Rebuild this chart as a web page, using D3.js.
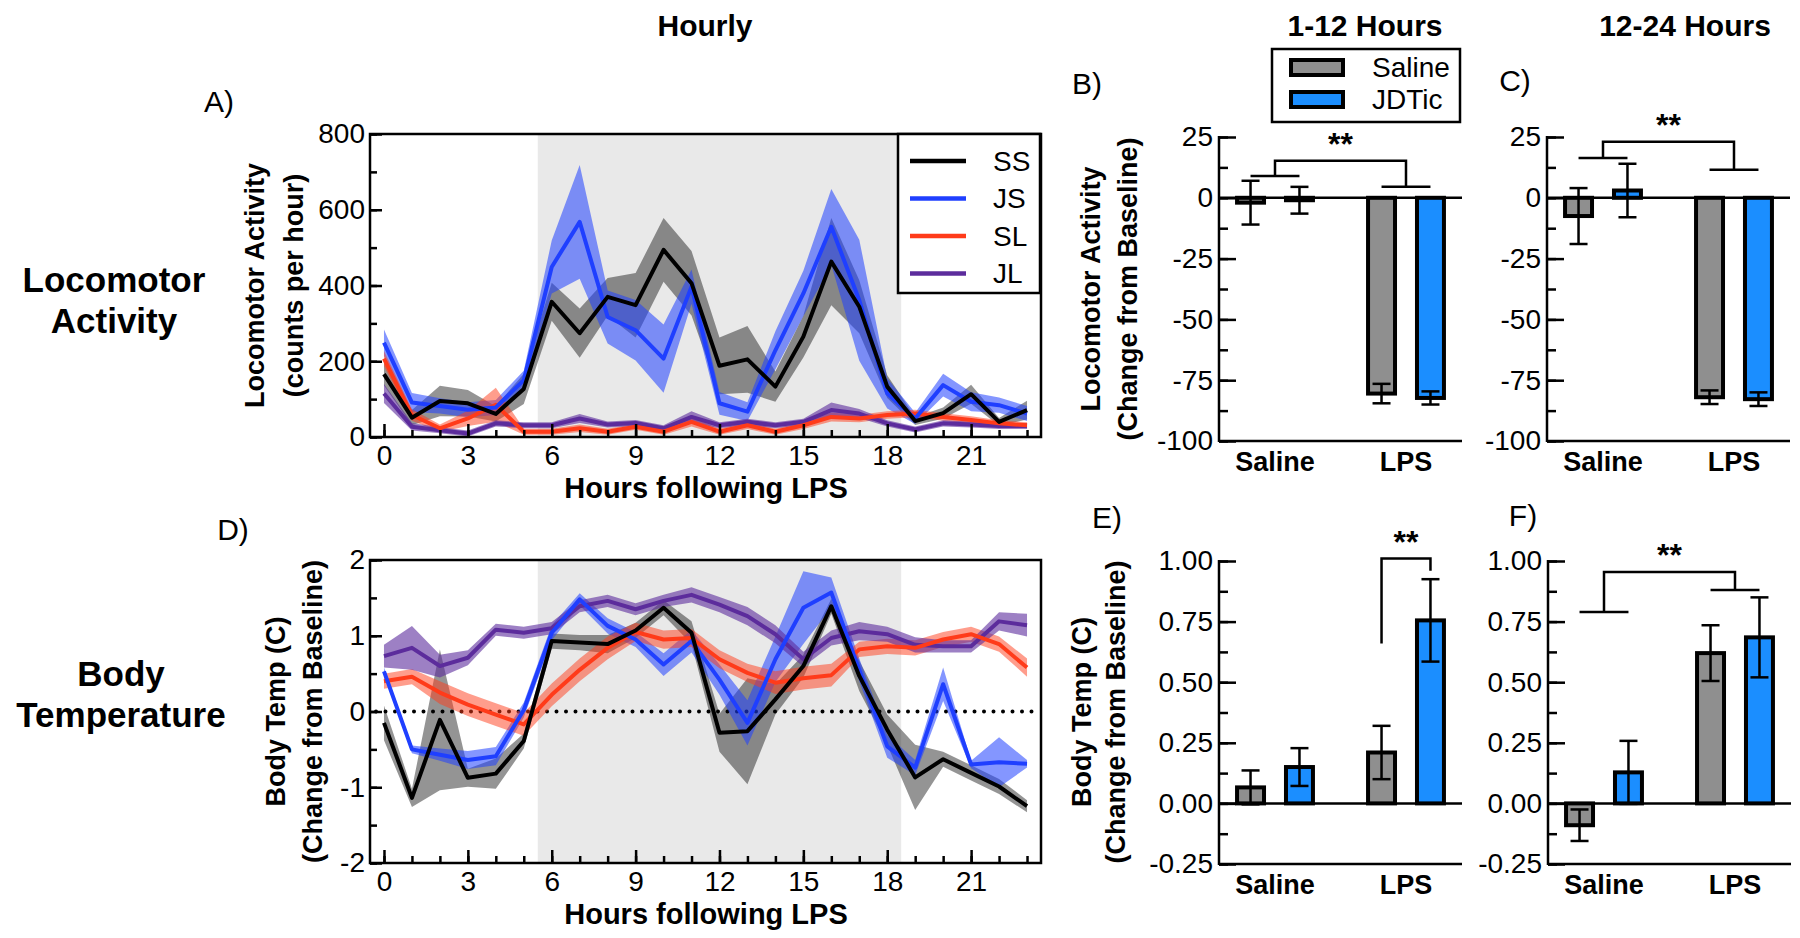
<!doctype html>
<html>
<head>
<meta charset="utf-8">
<script src="https://d3js.org/d3.v7.min.js"></script>
<style>
  body{margin:0;background:#fff;}
  svg{font-family:"Liberation Sans",Arial,sans-serif;}
  .axis path.domain{stroke:#000;stroke-width:2.5;}
  .axis line{stroke:#000;stroke-width:2.5;}
  .axis text{font-size:28px;fill:#000;font-family:"Liberation Sans",Arial,sans-serif;}
</style>
</head>
<body>
<svg width="1800" height="938"></svg>
<script>
// ---- hourly data (A: locomotor counts, D: body temp change) ----
var hours = d3.range(24);
var seriesNames = ['SS','JS','SL','JL'];
var seriesColors = ['#000000','#1f3fff','#ff3b1a','#5c2c9c'];
var bandOpacity = [0.42,0.55,0.5,0.6];

var locoSS  = [166,51,95,89,61,127,357,274,370,348,494,406,188,205,133,265,463,344,133,42,63,113,40,71];
var locoSSe = [30,20,40,35,20,40,50,65,50,85,84,85,75,88,40,55,115,70,30,10,15,25,10,25];
var locoJS  = [249,91,82,72,78,150,449,568,317,282,207,397,89,67,229,379,555,361,115,49,137,93,84,62];
var locoJSe = [35,25,20,20,20,25,70,150,70,80,90,45,30,25,50,60,100,160,40,15,30,25,20,20];
var locoSL  = [207,58,23,49,85,14,14,23,14,27,14,40,14,31,14,31,53,49,58,62,53,45,36,31];
var locoSLe = [20,15,10,20,45,8,8,10,8,8,8,12,8,10,8,10,12,10,10,10,10,10,8,8];
var locoJL  = [115,27,18,9,36,31,31,49,33,37,23,53,31,40,31,40,71,62,36,20,36,33,29,29];
var locoJLe = [25,10,8,8,8,8,8,12,8,8,8,15,8,8,8,8,20,12,8,8,8,8,8,8];

var tempSS  = [-0.15,-1.14,-0.11,-0.875,-0.82,-0.39,0.93,0.91,0.89,1.07,1.37,1.04,-0.28,-0.26,0.16,0.6,1.39,0.47,-0.24,-0.87,-0.63,-0.81,-0.99,-1.25];
var tempSSe = [0.23,0.12,0.93,0.12,0.2,0.1,0.1,0.1,0.12,0.1,0.1,0.15,0.25,0.7,0.2,0.15,0.1,0.2,0.2,0.43,0.1,0.1,0.1,0.08];
var tempJS  = [0.53,-0.5,-0.57,-0.64,-0.59,0.02,1.04,1.48,1.13,0.95,0.62,0.93,0.42,-0.15,0.69,1.37,1.57,0.55,-0.46,-0.74,0.36,-0.7,-0.67,-0.69];
var tempJSe = [0.05,0.05,0.08,0.12,0.12,0.1,0.1,0.08,0.1,0.1,0.15,0.15,0.2,0.3,0.3,0.48,0.2,0.15,0.15,0.1,0.22,0.05,0.33,0.05];
var tempSL  = [0.4,0.46,0.25,0.09,-0.04,-0.17,0.22,0.55,0.84,1.05,0.95,0.97,0.69,0.51,0.38,0.44,0.48,0.82,0.86,0.84,0.95,1.02,0.89,0.58];
var tempSLe = [0.1,0.1,0.15,0.15,0.15,0.15,0.15,0.15,0.15,0.12,0.12,0.12,0.12,0.12,0.15,0.15,0.15,0.1,0.1,0.1,0.1,0.1,0.1,0.12];
var tempJL  = [0.73,0.84,0.6,0.71,1.08,1.04,1.1,1.39,1.46,1.35,1.46,1.54,1.41,1.26,1.02,0.69,0.97,1.06,1.02,0.88,0.86,0.86,1.19,1.14];
var tempJLe = [0.15,0.29,0.15,0.1,0.08,0.08,0.08,0.08,0.08,0.08,0.08,0.1,0.1,0.12,0.12,0.1,0.1,0.12,0.1,0.1,0.08,0.08,0.12,0.15];

// ---- summary bars (order: Saline/Saline, Saline/JDTic, LPS/Saline, LPS/JDTic) ----
var groups = ['Saline','LPS'];
var treatments = ['Saline','JDTic'];
var treatColors = ['#8f8f8f','#1b8eff'];
var locoEarly  = [-2,-1,-80.5,-82.3];
var locoEarlyE = [9,5.5,4,2.7];
var locoLate   = [-7.5,3,-82,-82.8];
var locoLateE  = [11.5,11,2.8,2.8];
var tempEarly  = [0.066,0.15,0.21,0.755];
var tempEarlyE = [0.07,0.078,0.11,0.17];
var tempLate   = [-0.09,0.128,0.62,0.685];
var tempLateE  = [0.065,0.13,0.115,0.165];
// brackets: [top, left leg end, right leg end]
var locoEarlyBr = [15.2,9,4.5];
var locoLateBr  = [23,16.4,11.5];
var tempLateBr  = [0.955,0.79,0.88];
var tempEarlyBr = [1.01,0.66,0.96];

var locoTicks = [0,200,400,600,800];
var tempTicks = [-2,-1,0,1,2];
var barLocoTicks = [-100,-75,-50,-25,0,25];
var barTempTicks = [-0.25,0,0.25,0.5,0.75,1];

var svg = d3.select('svg');

function txt(x,y,s,size,bold,anchor){
  return svg.append('text').attr('x',x).attr('y',y)
    .attr('text-anchor',anchor||'middle').attr('dominant-baseline','central')
    .style('font-size',size+'px').style('font-weight',bold?'bold':'normal').text(s);
}
function vtxt(x,y,s,size){
  return svg.append('text').attr('transform','translate('+x+','+y+') rotate(-90)')
    .attr('text-anchor','middle').attr('dominant-baseline','central')
    .style('font-size',size+'px').style('font-weight','bold').text(s);
}

function hourly(o){
  var x = d3.scaleLinear().domain([-0.5,23.5]).range([370,1041]);
  var y = d3.scaleLinear().domain(o.yDomain).range([o.bottom,o.top]);
  var g = svg.append('g');
  g.append('rect').attr('x',x(5.5)).attr('y',o.top)
    .attr('width',x(18.5)-x(5.5)).attr('height',o.bottom-o.top).attr('fill','#e9e9e9');
  if(o.zero){
    g.append('line').attr('x1',x(-0.5)+6).attr('x2',x(23.5)).attr('y1',y(0)).attr('y2',y(0))
      .attr('stroke','#000').attr('stroke-width',4).attr('stroke-linecap','round')
      .attr('stroke-dasharray','0 9.5');
  }
  var area = d3.area().x(function(d){return x(d[0]);})
    .y0(function(d){return y(d[1]-d[2]);}).y1(function(d){return y(d[1]+d[2]);});
  var line = d3.line().x(function(d){return x(d[0]);}).y(function(d){return y(d[1]);});
  o.series.forEach(function(s,i){
    var pts = hours.map(function(h){return [h,s[0][h],s[1][h]];});
    g.append('path').attr('d',area(pts)).attr('fill',seriesColors[i]).attr('opacity',bandOpacity[i]);
  });
  [3,2,1,0].forEach(function(i){
    var s = o.series[i];
    var pts = hours.map(function(h){return [h,s[0][h]];});
    g.append('path').attr('d',line(pts)).attr('fill','none')
      .attr('stroke',seriesColors[i]).attr('stroke-width',4).attr('stroke-linejoin','round');
  });
  g.append('rect').attr('x',x(-0.5)).attr('y',o.top).attr('width',x(23.5)-x(-0.5))
    .attr('height',o.bottom-o.top).attr('fill','none').attr('stroke','#000').attr('stroke-width',2.5);
  // x axis
  g.append('g').attr('class','axis').attr('transform','translate(0,'+o.bottom+')')
    .call(d3.axisBottom(x).tickValues(hours).tickSize(-7).tickFormat(''))
    .call(function(a){a.select('.domain').remove();});
  g.append('g').attr('class','axis').attr('transform','translate(0,'+o.bottom+')')
    .call(d3.axisBottom(x).tickValues(d3.range(0,24,3)).tickSize(-13).tickPadding(8))
    .call(function(a){a.select('.domain').remove();});
  // y axis
  var step = o.ticks[1]-o.ticks[0];
  var minor = d3.range(o.yDomain[0], o.yDomain[1]+1e-9, step/2);
  g.append('g').attr('class','axis').attr('transform','translate('+x(-0.5)+',0)')
    .call(d3.axisLeft(y).tickValues(minor).tickSize(-7).tickFormat(''))
    .call(function(a){a.select('.domain').remove();});
  g.append('g').attr('class','axis').attr('transform','translate('+x(-0.5)+',0)')
    .call(d3.axisLeft(y).tickValues(o.ticks).tickSize(-12).tickPadding(5).tickFormat(function(d){return String(d);}))
    .call(function(a){a.select('.domain').remove();});
  txt(706,o.bottom+51,'Hours following LPS',29,true);
  vtxt(o.t1x,(o.top+o.bottom)/2,o.title1,27);
  vtxt(o.t2x,(o.top+o.bottom)/2,o.title2,27);
  return {x:x,y:y};
}

var pA = hourly({yDomain:[0,800],top:134,bottom:437,ticks:locoTicks,
  series:[[locoSS,locoSSe],[locoJS,locoJSe],[locoSL,locoSLe],[locoJL,locoJLe]],
  t1x:255,t2x:294,title1:'Locomotor Activity',title2:'(counts per hour)'});
var pD = hourly({yDomain:[-2,2],top:560,bottom:863,ticks:tempTicks,zero:true,
  series:[[tempSS,tempSSe],[tempJS,tempJSe],[tempSL,tempSLe],[tempJL,tempJLe]],
  t1x:276,t2x:313,title1:'Body Temp (C)',title2:'(Change from Baseline)'});

// legend for hourly panel
var lg = svg.append('g');
lg.append('rect').attr('x',898).attr('y',134).attr('width',142).attr('height',159)
  .attr('fill','#fff').attr('stroke','#000').attr('stroke-width',2.5);
seriesNames.forEach(function(n,i){
  var yy = 161 + i*37.5;
  lg.append('line').attr('x1',910).attr('x2',966).attr('y1',yy).attr('y2',yy)
    .attr('stroke',seriesColors[i]).attr('stroke-width',4.5);
  lg.append('text').attr('x',993).attr('y',yy).attr('dominant-baseline','central')
    .style('font-size','28px').text(n);
});

function barPanel(o){
  var x0 = d3.scaleBand().domain(groups).range([o.left,o.left+243]).paddingInner(0.39).paddingOuter(0.1225);
  var x1 = d3.scaleBand().domain(treatments).range([0,x0.bandwidth()]).paddingInner(0.367);
  var y = d3.scaleLinear().domain(o.yDomain).range([o.bottom,o.top]);
  var g = svg.append('g');
  var right = o.left+243;
  g.append('line').attr('x1',o.left).attr('x2',right).attr('y1',y(0)).attr('y2',y(0))
    .attr('stroke','#000').attr('stroke-width',2.5);
  g.append('line').attr('x1',o.left).attr('x2',right).attr('y1',o.bottom).attr('y2',o.bottom)
    .attr('stroke','#000').attr('stroke-width',2.5);
  var rows = [];
  groups.forEach(function(gr,gi){
    treatments.forEach(function(t,ti){
      var k = gi*2+ti;
      rows.push({g:gr,t:t,ti:ti,v:o.mean[k],e:o.sem[k],cx:x0(gr)+x1(t)+x1.bandwidth()/2});
    });
  });
  g.selectAll('rect.bar').data(rows).enter().append('rect').attr('class','bar')
    .attr('x',function(d){return x0(d.g)+x1(d.t)+2;})
    .attr('width',x1.bandwidth()-4)
    .attr('y',function(d){return Math.min(y(d.v),y(0));})
    .attr('height',function(d){return Math.abs(y(d.v)-y(0));})
    .attr('fill',function(d){return treatColors[d.ti];})
    .attr('stroke','#000').attr('stroke-width',4);
  var eb = g.selectAll('g.err').data(rows).enter().append('g').attr('class','err')
    .attr('stroke','#000').attr('stroke-width',2.5);
  eb.append('line').attr('x1',function(d){return d.cx;}).attr('x2',function(d){return d.cx;})
    .attr('y1',function(d){return y(d.v+d.e);}).attr('y2',function(d){return y(d.v-d.e);});
  eb.append('line').attr('x1',function(d){return d.cx-9;}).attr('x2',function(d){return d.cx+9;})
    .attr('y1',function(d){return y(d.v+d.e);}).attr('y2',function(d){return y(d.v+d.e);});
  eb.append('line').attr('x1',function(d){return d.cx-9;}).attr('x2',function(d){return d.cx+9;})
    .attr('y1',function(d){return y(d.v-d.e);}).attr('y2',function(d){return y(d.v-d.e);});
  // y axis
  var step = o.ticks[1]-o.ticks[0];
  var minor = d3.range(o.yDomain[0], o.yDomain[1]+1e-9, step/2);
  g.append('g').attr('class','axis').attr('transform','translate('+o.left+',0)')
    .call(d3.axisLeft(y).tickValues(minor).tickSize(-9).tickFormat(''))
    .call(function(a){a.select('.domain').remove();});
  g.append('g').attr('class','axis').attr('transform','translate('+o.left+',0)')
    .call(d3.axisLeft(y).tickValues(o.ticks).tickSize(-17).tickPadding(6).tickFormat(o.fmt))
    .call(function(a){a.select('.domain').remove();});
  g.append('line').attr('x1',o.left).attr('x2',o.left).attr('y1',o.top-1).attr('y2',o.bottom+1)
    .attr('stroke','#000').attr('stroke-width',2.5);
  groups.forEach(function(gr){
    txt(x0(gr)+x0.bandwidth()/2,o.bottom+21,gr,27,true);
  });
  // significance bracket
  var br = g.append('g').attr('stroke','#000').attr('stroke-width',2.5).attr('fill','none');
  var c = rows.map(function(d){return d.cx;});
  var mid;
  if(o.within){
    br.append('path').attr('d','M'+c[2]+','+y(o.br[1])+'V'+y(o.br[0])+'H'+c[3]+'V'+y(o.br[2]));
    mid = (c[2]+c[3])/2;
  } else {
    var gl = (c[0]+c[1])/2, gr2 = (c[2]+c[3])/2;
    br.append('path').attr('d','M'+gl+','+y(o.br[1])+'V'+y(o.br[0])+'H'+gr2+'V'+y(o.br[2]));
    br.append('path').attr('d','M'+c[0]+','+y(o.br[1])+'H'+c[1]);
    br.append('path').attr('d','M'+c[2]+','+y(o.br[2])+'H'+c[3]);
    mid = (gl+gr2)/2;
  }
  svg.append('text').attr('x',mid).attr('y',y(o.br[0])-6).attr('text-anchor','middle')
    .style('font-size','32px').style('font-weight','bold').text('**');
  return {x0:x0,y:y};
}

var intFmt = function(d){return String(d);};
var decFmt = function(d){return d.toFixed(2);};
barPanel({left:1219,top:137,bottom:441,yDomain:[-100,25],ticks:barLocoTicks,fmt:intFmt,
  mean:locoEarly,sem:locoEarlyE,br:locoEarlyBr});
barPanel({left:1547,top:137,bottom:441,yDomain:[-100,25],ticks:barLocoTicks,fmt:intFmt,
  mean:locoLate,sem:locoLateE,br:locoLateBr});
barPanel({left:1219,top:561,bottom:864,yDomain:[-0.25,1],ticks:barTempTicks,fmt:decFmt,
  mean:tempEarly,sem:tempEarlyE,br:tempEarlyBr,within:true});
barPanel({left:1548,top:561,bottom:864,yDomain:[-0.25,1],ticks:barTempTicks,fmt:decFmt,
  mean:tempLate,sem:tempLateE,br:tempLateBr});

vtxt(1091,289,'Locomotor Activity',27);
vtxt(1128,289,'(Change from Baseline)',27);
vtxt(1082,712,'Body Temp (C)',27);
vtxt(1116,712,'(Change from Baseline)',27);

// bar legend
var bl = svg.append('g');
bl.append('rect').attr('x',1272).attr('y',49).attr('width',188).attr('height',73)
  .attr('fill','#fff').attr('stroke','#000').attr('stroke-width',2.5);
treatments.forEach(function(t,i){
  var yy = 67 + i*32;
  bl.append('rect').attr('x',1291).attr('y',yy-7).attr('width',52).attr('height',15)
    .attr('fill',treatColors[i]).attr('stroke','#000').attr('stroke-width',4);
  bl.append('text').attr('x',1372).attr('y',yy).attr('dominant-baseline','central')
    .style('font-size','28px').text(t);
});

// titles and panel letters
txt(705,25,'Hourly',30,true);
txt(1365,25,'1-12 Hours',30,true);
txt(1685,25,'12-24 Hours',30,true);
txt(219,101,'A)',30,false);
txt(1087,83,'B)',30,false);
txt(1515,80,'C)',30,false);
txt(233,529,'D)',30,false);
txt(1107,517,'E)',30,false);
txt(1523,515,'F)',30,false);
txt(114,279,'Locomotor',35,true);
txt(114,320,'Activity',35,true);
txt(121,673,'Body',35,true);
txt(121,714,'Temperature',35,true);
</script>
</body>
</html>
